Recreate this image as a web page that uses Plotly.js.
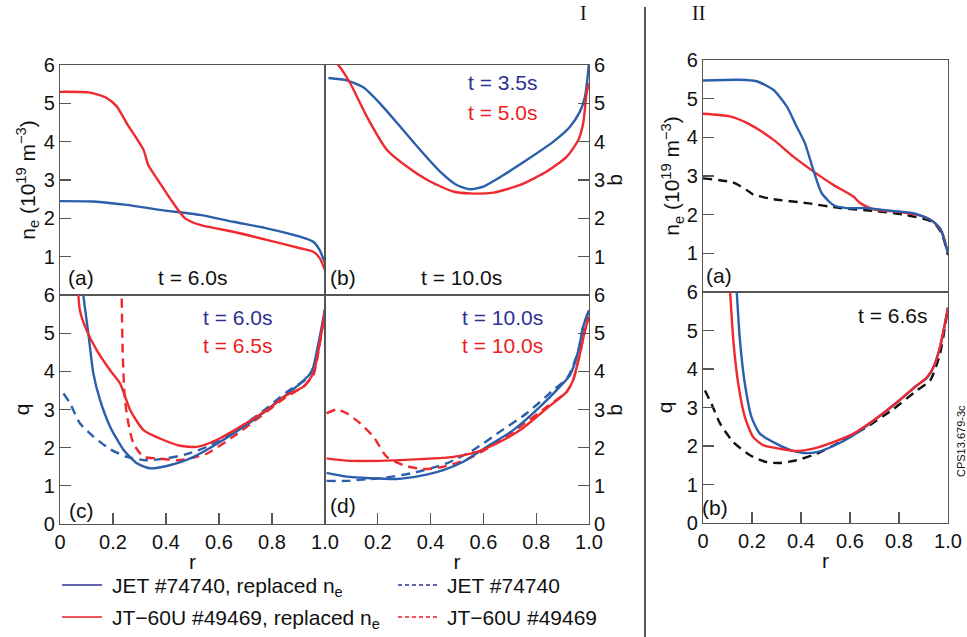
<!DOCTYPE html>
<html>
<head>
<meta charset="utf-8">
<script src="https://cdn.plot.ly/plotly-3.0.1.min.js"></script>
<style>html,body{margin:0;padding:0;background:#fff;}#chart{width:967px;height:637px;}</style>
</head>
<body>
<div id="chart"></div>
<script>
// ---------- DATA ----------
// Panel I(a): n_e, t = 6.0s
const rIa_jetRep = [0, 0.126, 0.252, 0.377, 0.528, 0.654, 0.78, 0.906, 0.956, 0.98, 1.0];
const neIa_jetRep = [2.45, 2.44, 2.35, 2.22, 2.09, 1.91, 1.74, 1.52, 1.39, 1.17, 0.83];
const rIa_jtRep = [0, 0.113, 0.176, 0.214, 0.252, 0.315, 0.333, 0.377, 0.415, 0.472, 0.528, 0.654, 0.78, 0.906, 0.956, 0.98, 1.0];
const neIa_jtRep = [5.30, 5.28, 5.14, 4.92, 4.48, 3.79, 3.39, 2.92, 2.52, 2.0, 1.83, 1.65, 1.44, 1.22, 1.13, 0.96, 0.65];
// Panel I(b): n_e, t = 10.0s
const rIb_jetRep = [0.013, 0.082, 0.145, 0.208, 0.284, 0.36, 0.436, 0.499, 0.549, 0.6, 0.676, 0.764, 0.865, 0.928, 0.966, 0.985, 1.0];
const neIb_jetRep = [5.66, 5.6, 5.42, 5.0, 4.4, 3.79, 3.22, 2.87, 2.76, 2.83, 3.13, 3.52, 4.0, 4.39, 4.79, 5.18, 6.05];
const rIb_jtRep = [0, 0.05, 0.095, 0.158, 0.234, 0.31, 0.398, 0.486, 0.549, 0.638, 0.739, 0.84, 0.916, 0.96, 0.978, 0.991, 1.0];
const neIb_jtRep = [6.3, 6.0, 5.53, 4.66, 3.79, 3.35, 2.96, 2.7, 2.65, 2.67, 2.87, 3.22, 3.61, 4.05, 4.48, 5.27, 5.53];
// Panel I(c): q, JET t = 6.0s, JT-60U t = 6.5s
const rIc_jetRep = [0.083, 0.088, 0.107, 0.126, 0.151, 0.189, 0.24, 0.29, 0.34, 0.403, 0.478, 0.553, 0.654, 0.755, 0.843, 0.906, 0.95, 0.975, 1.0];
const qIc_jetRep = [6.5, 6.0, 4.99, 3.94, 3.25, 2.55, 1.94, 1.59, 1.46, 1.52, 1.68, 1.94, 2.37, 2.85, 3.33, 3.68, 3.99, 4.73, 5.62];
const rIc_jtRep = [0.066, 0.075, 0.1, 0.139, 0.189, 0.227, 0.265, 0.315, 0.377, 0.453, 0.516, 0.591, 0.68, 0.78, 0.856, 0.919, 0.956, 0.982, 1.0];
const qIc_jtRep = [6.4, 5.6, 5.08, 4.55, 4.03, 3.68, 2.98, 2.46, 2.24, 2.05, 2.02, 2.2, 2.55, 2.98, 3.38, 3.6, 3.95, 4.82, 5.6];
const rIc_jet = [0.013, 0.038, 0.075, 0.126, 0.189, 0.252, 0.327, 0.403, 0.478, 0.553, 0.654, 0.755, 0.856, 0.931, 0.956, 0.98, 1.0];
const qIc_jet = [3.42, 3.16, 2.64, 2.29, 1.96, 1.76, 1.67, 1.72, 1.83, 2.02, 2.42, 2.9, 3.46, 3.81, 4.1, 4.75, 5.62];
const rIc_jt = [0.232, 0.237, 0.245, 0.258, 0.277, 0.315, 0.366, 0.442, 0.492, 0.553, 0.654, 0.755, 0.856, 0.919, 0.956, 0.982, 1.0];
const qIc_jt = [6.3, 4.38, 3.25, 2.64, 2.11, 1.76, 1.72, 1.67, 1.72, 1.84, 2.29, 2.81, 3.34, 3.6, 3.9, 4.8, 5.6];
// Panel I(d): q, t = 10.0s
const rId_jetRep = [0.006, 0.082, 0.17, 0.271, 0.36, 0.448, 0.524, 0.612, 0.713, 0.814, 0.89, 0.928, 0.96, 0.978, 1.0];
const qId_jetRep = [1.34, 1.24, 1.2, 1.18, 1.26, 1.41, 1.63, 2.02, 2.46, 3.07, 3.6, 3.9, 4.55, 5.17, 5.6];
const rId_jtRep = [0.006, 0.082, 0.234, 0.36, 0.486, 0.575, 0.65, 0.739, 0.84, 0.915, 0.94, 0.966, 0.985, 1.0];
const qId_jtRep = [1.72, 1.66, 1.66, 1.7, 1.76, 1.89, 2.11, 2.46, 3.03, 3.46, 3.77, 4.47, 5.08, 5.43];
const rId_jet = [0.006, 0.082, 0.158, 0.234, 0.335, 0.461, 0.562, 0.663, 0.764, 0.865, 0.92, 0.96, 0.978, 1.0];
const qId_jet = [1.13, 1.13, 1.17, 1.22, 1.34, 1.59, 1.94, 2.42, 2.9, 3.51, 3.85, 4.55, 5.17, 5.6];
const rId_jt = [0.006, 0.044, 0.082, 0.133, 0.183, 0.234, 0.297, 0.373, 0.448, 0.537, 0.638, 0.739, 0.84, 0.915, 0.94, 0.966, 0.985, 1.0];
const qId_jt = [2.9, 3.0, 2.9, 2.64, 2.29, 1.76, 1.54, 1.44, 1.5, 1.69, 2.07, 2.55, 3.07, 3.46, 3.77, 4.47, 5.08, 5.43];
// Panel II(a): n_e
const rIIa_blue = [0, 0.151, 0.219, 0.287, 0.342, 0.382, 0.416, 0.45, 0.484, 0.532, 0.586, 0.668, 0.763, 0.858, 0.927, 0.967, 1.0];
const neIIa_blue = [5.47, 5.49, 5.45, 5.23, 4.8, 4.28, 3.85, 3.16, 2.56, 2.25, 2.17, 2.17, 2.1, 2.04, 1.87, 1.65, 1.0];
const rIIa_red = [0, 0.11, 0.192, 0.287, 0.369, 0.45, 0.532, 0.614, 0.641, 0.695, 0.804, 0.886, 0.94, 0.974, 1.0];
const neIIa_red = [4.61, 4.54, 4.33, 3.94, 3.5, 3.12, 2.77, 2.47, 2.3, 2.14, 2.07, 1.98, 1.82, 1.57, 1.0];
const rIIa_black = [0, 0.124, 0.178, 0.205, 0.287, 0.423, 0.559, 0.695, 0.831, 0.94, 0.974, 1.0];
const neIIa_black = [2.94, 2.83, 2.64, 2.52, 2.4, 2.3, 2.17, 2.1, 1.99, 1.8, 1.52, 0.96];
// Panel II(b): q, t = 6.6s
const rIIb_blue = [0.135, 0.151, 0.171, 0.198, 0.232, 0.287, 0.355, 0.41, 0.464, 0.532, 0.614, 0.695, 0.791, 0.872, 0.913, 0.94, 0.967, 1.0];
const qIIb_blue = [6.3, 4.73, 3.61, 2.75, 2.32, 2.1, 1.9, 1.82, 1.84, 2.0, 2.28, 2.65, 3.13, 3.57, 3.76, 4.04, 4.56, 5.59];
const rIIb_red = [0.108, 0.124, 0.144, 0.171, 0.205, 0.246, 0.314, 0.382, 0.45, 0.532, 0.614, 0.695, 0.791, 0.872, 0.913, 0.94, 0.967, 1.0];
const qIIb_red = [6.3, 4.73, 3.61, 2.75, 2.23, 2.02, 1.93, 1.87, 1.93, 2.1, 2.32, 2.66, 3.13, 3.57, 3.78, 4.04, 4.56, 5.59];
const rIIb_black = [0.008, 0.035, 0.07, 0.124, 0.192, 0.26, 0.314, 0.382, 0.464, 0.559, 0.668, 0.777, 0.872, 0.927, 0.967, 1.0];
const qIIb_black = [3.44, 3.09, 2.58, 2.1, 1.76, 1.58, 1.56, 1.63, 1.8, 2.1, 2.49, 2.96, 3.44, 3.7, 4.38, 5.59];

// Tick labels
const xTickVals = [0, 0.2, 0.4, 0.6, 0.8, 1.0];
const xTickText = ['0', '0.2', '0.4', '0.6', '0.8', '1.0'];
const xTickValsD = [0.2, 0.4, 0.6, 0.8, 1.0];
const xTickTextD = ['0.2', '0.4', '0.6', '0.8', '1.0'];
const yTickTop = [1, 2, 3, 4, 5, 6];
const yTickBottom = [0, 1, 2, 3, 4, 5, 6];

const legendNames = ['JET #74740, replaced n<sub>e</sub>', 'JET #74740', 'JT\u221260U #49469, replaced n<sub>e</sub>', 'JT\u221260U #49469'];

// ---------- STYLE ----------
const W = 967, H = 637;
const px = x => x / W, py = y => 1 - y / H;
const BLUE = '#2b5eab', RED = '#ee2a2f', TBLUE = '#2e3192', TRED = '#ed1c24';
const FONT = 'Liberation Sans, Arial, sans-serif';
const FRAME = '#555555';
const LW = 2.4;
const DASH = '9px,6px';

function tr(x, y, ax, color, dash) {
  return {x: x, y: y, type: 'scatter', mode: 'lines', xaxis: 'x' + ax, yaxis: 'y' + ax,
    line: {color: color, width: LW, dash: dash || 'solid', shape: 'spline', smoothing: 0.6},
    showlegend: false, hoverinfo: 'skip'};
}
const data = [
  tr(rIa_jetRep, neIa_jetRep, '', BLUE), tr(rIa_jtRep, neIa_jtRep, '', RED),
  tr(rIb_jetRep, neIb_jetRep, '2', BLUE), tr(rIb_jtRep, neIb_jtRep, '2', RED),
  tr(rIc_jet, qIc_jet, '3', BLUE, DASH), tr(rIc_jt, qIc_jt, '3', RED, DASH),
  tr(rIc_jetRep, qIc_jetRep, '3', BLUE), tr(rIc_jtRep, qIc_jtRep, '3', RED),
  tr(rId_jet, qId_jet, '4', BLUE, DASH), tr(rId_jt, qId_jt, '4', RED, DASH),
  tr(rId_jetRep, qId_jetRep, '4', BLUE), tr(rId_jtRep, qId_jtRep, '4', RED),
  tr(rIIa_black, neIIa_black, '5', '#111', DASH), tr(rIIa_red, neIIa_red, '5', RED), tr(rIIa_blue, neIIa_blue, '5', BLUE),
  tr(rIIb_black, qIIb_black, '6', '#111', DASH), tr(rIIb_blue, qIIb_blue, '6', BLUE), tr(rIIb_red, qIIb_red, '6', RED)
];

function ax(domain, extra) {
  return Object.assign({domain: domain, range: [0, 1], showline: true, mirror: true, linecolor: FRAME, linewidth: 1.1,
    ticks: 'inside', ticklen: 11, tickwidth: 1.2, tickcolor: FRAME, showgrid: false, zeroline: false,
    tickfont: {family: FONT, size: 20, color: '#111'}, fixedrange: true}, extra || {});
}
const xL = [px(60), px(325)], xR = [px(325), px(589)], xII = [px(703), px(948)];
const yT = [py(295), py(65)], yB = [py(524), py(295)];
const yIIT = [py(292), py(60)], yIIB = [py(523), py(292)];
const titleFont = {family: FONT, size: 21, color: '#111'};

const layout = {
  width: W, height: H, margin: {l: 0, r: 0, t: 0, b: 0}, paper_bgcolor: '#fff', plot_bgcolor: '#fff',
  showlegend: false,
  xaxis: ax(xL, {anchor: 'y', showticklabels: false, ticks: ''}),
  yaxis: ax(yT, {anchor: 'x', range: [0, 6], tickvals: yTickTop,
    title: {text: 'n<sub>e</sub> (10<sup>19</sup> m<sup>\u22123</sup>)', font: titleFont, standoff: 2}}),
  xaxis2: ax(xR, {anchor: 'y2', showticklabels: false, ticks: ''}),
  yaxis2: ax(yT, {anchor: 'x2', side: 'right', range: [0, 6], tickvals: yTickTop}),
  xaxis3: ax(xL, {anchor: 'y3', tickvals: xTickVals, ticktext: xTickText,
    title: {text: 'r', font: titleFont, standoff: 2}}),
  yaxis3: ax(yB, {anchor: 'x3', range: [0, 6], tickvals: yTickBottom,
    title: {text: 'q', font: titleFont, standoff: 8}}),
  xaxis4: ax(xR, {anchor: 'y4', tickvals: xTickValsD, ticktext: xTickTextD,
    title: {text: 'r', font: titleFont, standoff: 2}}),
  yaxis4: ax(yB, {anchor: 'x4', side: 'right', range: [0, 6], tickvals: yTickBottom}),
  xaxis5: ax(xII, {anchor: 'y5', showticklabels: false, ticks: ''}),
  yaxis5: ax(yIIT, {anchor: 'x5', range: [0, 6], tickvals: yTickTop,
    title: {text: 'n<sub>e</sub> (10<sup>19</sup> m<sup>\u22123</sup>)', font: titleFont, standoff: 0}}),
  xaxis6: ax(xII, {anchor: 'y6', tickvals: xTickVals, ticktext: xTickText,
    title: {text: 'r', font: titleFont, standoff: 2}}),
  yaxis6: ax(yIIB, {anchor: 'x6', range: [0, 6], tickvals: yTickBottom,
    title: {text: 'q', font: titleFont, standoff: 8}}),
  shapes: [
    {type: 'line', xref: 'paper', yref: 'paper', x0: px(645), x1: px(645), y0: py(7), y1: 0, line: {color: '#222', width: 1.5}},
    {type: 'line', xref: 'paper', yref: 'paper', x0: px(62), x1: px(102), y0: py(585), y1: py(585), line: {color: TBLUE, width: 1.5}},
    {type: 'line', xref: 'paper', yref: 'paper', x0: px(398), x1: px(438), y0: py(585), y1: py(585), line: {color: TBLUE, width: 1.5, dash: '4px,3px'}},
    {type: 'line', xref: 'paper', yref: 'paper', x0: px(62), x1: px(102), y0: py(617), y1: py(617), line: {color: TRED, width: 1.5}},
    {type: 'line', xref: 'paper', yref: 'paper', x0: px(398), x1: px(438), y0: py(617), y1: py(617), line: {color: TRED, width: 1.5, dash: '4px,3px'}}
  ],
  annotations: []
};

function ann(text, x, y, opts) {
  layout.annotations.push(Object.assign({text: text, x: px(x), y: py(y), xref: 'paper', yref: 'paper',
    showarrow: false, font: {family: FONT, size: 21, color: '#111'}, xanchor: 'center', yanchor: 'middle'}, opts || {}));
}
// panel labels
ann('(a)', 81, 277); ann('t = 6.0s', 192, 277);
ann('(b)', 343, 277); ann('t = 10.0s', 461, 277);
ann('t = 3.5s', 502, 83, {font: {family: FONT, size: 21, color: TBLUE}});
ann('t = 5.0s', 502, 112, {font: {family: FONT, size: 21, color: TRED}});
ann('(c)', 81, 510); ann('(d)', 343, 505);
ann('t = 6.0s', 237, 317, {font: {family: FONT, size: 21, color: TBLUE}});
ann('t = 6.5s', 237, 345, {font: {family: FONT, size: 21, color: TRED}});
ann('t = 10.0s', 502, 317, {font: {family: FONT, size: 21, color: TBLUE}});
ann('t = 10.0s', 502, 345, {font: {family: FONT, size: 21, color: TRED}});
ann('(a)', 719, 275); ann('(b)', 715, 507);
ann('t = 6.6s', 892, 315);
// right-side q titles
ann('q', 619, 180, {textangle: 90}); ann('q', 619, 410, {textangle: 90});
// section labels
ann('I', 583, 13, {font: {family: 'Liberation Serif, Times New Roman, serif', size: 20, color: '#111'}});
ann('II', 698, 13, {font: {family: 'Liberation Serif, Times New Roman, serif', size: 20, color: '#111'}});
ann('CPS13.679-3c', 961, 441, {textangle: -90, font: {family: FONT, size: 11, color: '#111'}});
// legend text
ann(legendNames[0], 110, 587, {xanchor: 'left'});
ann(legendNames[1], 445, 585, {xanchor: 'left'});
ann(legendNames[2], 110, 619, {xanchor: 'left'});
ann(legendNames[3], 445, 617, {xanchor: 'left'});

Plotly.newPlot('chart', data, layout, {staticPlot: true, displayModeBar: false});
</script>
</body>
</html>
